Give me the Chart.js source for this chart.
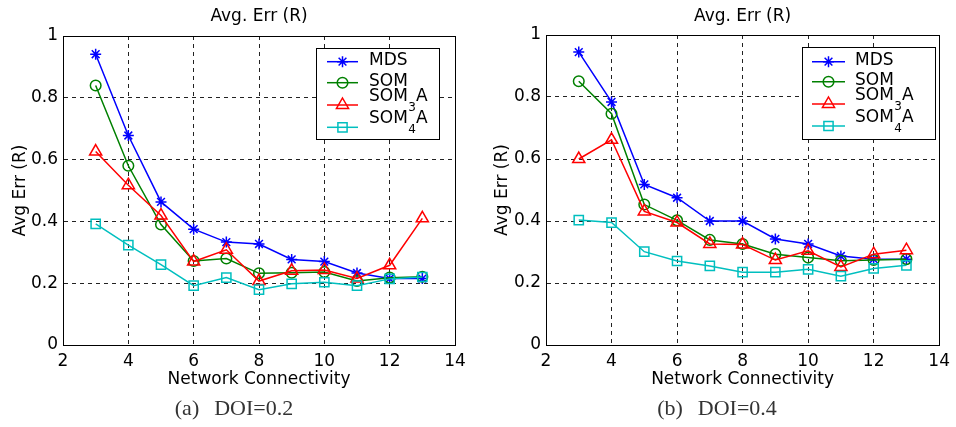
<!DOCTYPE html>
<html>
<head>
<meta charset="utf-8">
<script src="https://cdn.jsdelivr.net/npm/chart.js@4.4.1/dist/chart.umd.min.js"></script>
<style>
  html, body { margin: 0; padding: 0; background: #fff; }
  #wrap { position: relative; width: 956px; height: 427px; overflow: hidden; background: #fff; }
  .panel { position: absolute; top: 0; width: 478px; height: 427px; }
  canvas { display: block; }
</style>
</head>
<body>
<div id="wrap">
  <div class="panel" style="left:0"><canvas id="chartA" width="478" height="427"></canvas></div>
  <div class="panel" style="left:478px"><canvas id="chartB" width="478" height="427"></canvas></div>
</div>
<script>
// Network connectivity values (x) and axis ticks
const connectivity = [3, 4, 5, 6, 7, 8, 9, 10, 11, 12, 13];
const xTicks = [2, 4, 6, 8, 10, 12, 14];
const yTicks = [0, 0.2, 0.4, 0.6, 0.8, 1];

// Series names; "_n" marks a subscript digit
const seriesNames = ['MDS', 'SOM', 'SOM_3A', 'SOM_4A'];

// Panel (a): DOI = 0.2
const mdsA   = [0.941, 0.678, 0.463, 0.375, 0.333, 0.327, 0.277, 0.270, 0.233, 0.215, 0.215];
const somA   = [0.840, 0.580, 0.390, 0.272, 0.280, 0.232, 0.234, 0.236, 0.207, 0.218, 0.221];
const som3aA = [0.626, 0.517, 0.419, 0.270, 0.308, 0.207, 0.240, 0.243, 0.215, 0.258, 0.410];
const som4aA = [0.392, 0.323, 0.260, 0.192, 0.218, 0.179, 0.198, 0.203, 0.192, 0.214, 0.220];

// Panel (b): DOI = 0.4
const mdsB   = [0.945, 0.784, 0.518, 0.475, 0.400, 0.400, 0.342, 0.326, 0.287, 0.277, 0.277];
const somB   = [0.851, 0.746, 0.453, 0.402, 0.339, 0.326, 0.293, 0.282, 0.272, 0.274, 0.277];
const som3aB = [0.600, 0.662, 0.431, 0.395, 0.326, 0.324, 0.274, 0.304, 0.252, 0.293, 0.306];
const som4aB = [0.403, 0.395, 0.301, 0.271, 0.255, 0.235, 0.235, 0.244, 0.222, 0.247, 0.257];

const plotTitle = 'Avg. Err (R)';
const xTitle = 'Network Connectivity';
const yTitle = 'Avg Err (R)';
const captionA = ['(a)', 'DOI=0.2'];
const captionB = ['(b)', 'DOI=0.4'];

// Styling
const colors = ['#0000ff', '#008000', '#ff0000', '#00bfbf'];
const markers = ['star', 'circle', 'triangle', 'rect'];
const markerRadius = [5.5, 5.3, 7, 6.5];
const FONT = 'DejaVu Sans, Liberation Sans, Arial, sans-serif';
const SERIF = '"Liberation Serif", "DejaVu Serif", serif';
const tickFont = { family: FONT, size: 17 };

function drawMarker(ctx, style, x, y, r) {
  ctx.beginPath();
  if (style === 'circle') {
    ctx.arc(x, y, r, 0, Math.PI * 2);
  } else if (style === 'rect') {
    const s = r * Math.SQRT1_2;
    ctx.rect(x - s, y - s, 2 * s, 2 * s);
  } else if (style === 'triangle') {
    ctx.moveTo(x, y - r);
    ctx.lineTo(x + r * 0.866, y + r * 0.5);
    ctx.lineTo(x - r * 0.866, y + r * 0.5);
    ctx.closePath();
  } else if (style === 'star') {
    const d = r * Math.SQRT1_2;
    ctx.moveTo(x - r, y); ctx.lineTo(x + r, y);
    ctx.moveTo(x, y - r); ctx.lineTo(x, y + r);
    ctx.moveTo(x - d, y - d); ctx.lineTo(x + d, y + d);
    ctx.moveTo(x - d, y + d); ctx.lineTo(x + d, y - d);
  }
  ctx.stroke();
}

// Draws a legend label with an optional "_n" subscript digit
function drawLabel(ctx, text, x, y) {
  const parts = text.split('_');
  ctx.textAlign = 'left';
  ctx.textBaseline = 'middle';
  ctx.fillStyle = '#000';
  ctx.font = '17px ' + FONT;
  if (parts.length === 1) {
    ctx.fillText(text, x, y);
    return;
  }
  ctx.fillText(parts[0], x, y - 1);
  let cx = x + ctx.measureText(parts[0]).width;
  const sub = parts[1].charAt(0);
  const rest = parts[1].slice(1);
  ctx.font = '12px ' + FONT;
  ctx.fillText(sub, cx + 0.5, y + 10);
  cx += ctx.measureText(sub).width + 0.5;
  ctx.font = '17px ' + FONT;
  ctx.fillText(rest, cx, y - 1);
}

function framePlugin(cfg) {
  return {
    id: 'frame',
    beforeDatasetsDraw(chart) {
      const { ctx, chartArea: a } = chart;
      ctx.save();
      ctx.setLineDash([]);
      ctx.strokeStyle = '#000';
      ctx.lineWidth = 1;
      const l = Math.round(a.left) + 0.5, t = Math.round(a.top) + 0.5;
      const r = Math.round(a.right) + 0.5, b = Math.round(a.bottom) + 0.5;
      ctx.strokeRect(l, t, r - l, b - t);
      ctx.restore();
    },
    afterDraw(chart) {
      const { ctx, chartArea: a } = chart;
      ctx.save();
      // plot title
      ctx.fillStyle = '#000';
      ctx.font = '17px ' + FONT;
      ctx.textAlign = 'center';
      ctx.textBaseline = 'middle';
      ctx.fillText(plotTitle, (a.left + a.right) / 2, 17);
      // sub-figure caption: label, wide gap, then text
      ctx.fillStyle = '#333';
      ctx.font = '22px ' + SERIF;
      ctx.textAlign = 'left';
      ctx.textBaseline = 'alphabetic';
      const gap = 15;
      const w0 = ctx.measureText(cfg.caption[0]).width;
      const w1 = ctx.measureText(cfg.caption[1]).width;
      const x0 = cfg.captionX - (w0 + gap + w1) / 2;
      ctx.fillText(cfg.caption[0], x0, 415);
      ctx.fillText(cfg.caption[1], x0 + w0 + gap, 415);
      // legend box
      const L = cfg.legend;
      ctx.fillStyle = '#fff';
      ctx.fillRect(L.x, L.y, L.w, L.h);
      ctx.strokeStyle = '#000';
      ctx.lineWidth = 1;
      ctx.strokeRect(L.x + 0.5, L.y + 0.5, L.w, L.h);
      chart.data.datasets.forEach((ds, i) => {
        const ly = L.rows[i];
        ctx.strokeStyle = colors[i];
        ctx.lineWidth = 1.5;
        ctx.beginPath();
        ctx.moveTo(L.lineX0, ly);
        ctx.lineTo(L.lineX1, ly);
        ctx.stroke();
        drawMarker(ctx, markers[i], (L.lineX0 + L.lineX1) / 2, ly, markerRadius[i]);
        const hasSub = seriesNames[i].indexOf('_') >= 0;
        drawLabel(ctx, seriesNames[i], L.textX, hasSub ? ly - 7.5 : ly - 1.5);
      });
      ctx.restore();
    }
  };
}

function makeDatasets(seriesList) {
  return seriesList.map((vals, i) => ({
    label: seriesNames[i],
    data: connectivity.map((x, j) => ({ x: x, y: vals[j] })),
    borderColor: colors[i],
    backgroundColor: 'rgba(0,0,0,0)',
    pointBackgroundColor: 'rgba(0,0,0,0)',
    pointBorderColor: colors[i],
    pointStyle: markers[i],
    pointRadius: markerRadius[i],
    pointBorderWidth: 1.5,
    borderWidth: 1.5,
    tension: 0,
    order: 4 - i,
    clip: false
  }));
}

function makeChart(id, seriesList, cfg) {
  const gridOpts = { color: '#222', lineWidth: 1, drawTicks: false };
  const borderOpts = { display: true, color: '#000', width: 1, dash: [4, 4] };
  return new Chart(document.getElementById(id), {
    type: 'line',
    data: { datasets: makeDatasets(seriesList) },
    options: {
      responsive: false,
      animation: false,
      devicePixelRatio: 1,
      layout: { padding: { left: 0, right: cfg.padRight, top: cfg.padTop, bottom: 0 } },
      plugins: { legend: { display: false }, tooltip: { enabled: false }, title: { display: false } },
      scales: {
        x: {
          type: 'linear', min: 2, max: 14,
          afterBuildTicks: s => { s.ticks = xTicks.map(v => ({ value: v })); },
          afterFit: s => { s.height = 82; },
          ticks: { font: tickFont, color: '#000', padding: 6, autoSkip: false, maxRotation: 0, callback: v => String(v) },
          grid: gridOpts,
          border: borderOpts,
          title: { display: true, text: xTitle, font: tickFont, color: '#000', padding: { top: 0, bottom: 37 } }
        },
        y: {
          type: 'linear', min: 0, max: 1,
          afterBuildTicks: s => { s.ticks = yTicks.map(v => ({ value: v })); },
          afterFit: s => { s.width = cfg.yWidth; },
          ticks: { font: tickFont, color: '#000', padding: 5, callback: v => String(v) },
          grid: gridOpts,
          border: borderOpts,
          title: { display: true, text: yTitle, font: tickFont, color: '#000', padding: { top: cfg.yTitlePad, bottom: 0 } }
        }
      }
    },
    plugins: [framePlugin(cfg)]
  });
}

makeChart('chartA', [mdsA, somA, som3aA, som4aA], {
  padRight: 23, padTop: 36, yWidth: 63, yTitlePad: 10,
  caption: captionA, captionX: 234,
  legend: { x: 316, y: 48, w: 123, h: 91, lineX0: 327, lineX1: 358, textX: 369, rows: [61.7, 82.7, 105, 127.3] }
});

makeChart('chartB', [mdsB, somB, som3aB, som4aB], {
  padRight: 16, padTop: 35, yWidth: 68, yTitlePad: 14,
  caption: captionB, captionX: 239,
  legend: { x: 324, y: 47, w: 133, h: 92, lineX0: 334, lineX1: 367, textX: 377, rows: [61.7, 81.7, 104, 126] }
});
</script>
</body>
</html>
